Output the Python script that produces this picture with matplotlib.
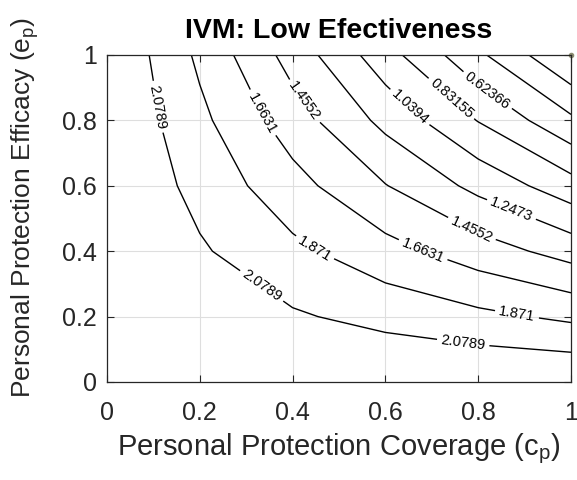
import numpy as np
import matplotlib
matplotlib.use("Agg")
import matplotlib.pyplot as plt

# Grilla de datos (cobertura c_p en columnas, eficacia e_p en filas)
cp = [0.0, 0.2, 0.4, 0.6, 0.8, 1.0]
ep = [0.0, 0.2, 0.4, 0.6, 0.8, 1.0]
R = [
    [2.2868, 2.2868, 2.2868, 2.2868, 2.2868, 2.2868],
    [2.2868, 2.1953, 2.1038, 2.0124, 1.9209, 1.8294],
    [2.2868, 2.1038, 1.9209, 1.7379, 1.5550, 1.3721],
    [2.2868, 2.0124, 1.7379, 1.4635, 1.1891, 0.9147],
    [2.2868, 1.9209, 1.5550, 1.1891, 0.8232, 0.4574],
    [2.2868, 1.8294, 1.3721, 0.9147, 0.4574, 0.0000],
]
levels = [0.20789, 0.41578, 0.62366, 0.83155, 1.0394,
          1.2473, 1.4552, 1.6631, 1.871, 2.0789]
level_text = ["0.20789", "0.41578", "0.62366", "0.83155", "1.0394",
              "1.2473", "1.4552", "1.6631", "1.871", "2.0789"]
# posiciones aproximadas de las etiquetas
label_pos = [(0.103, 0.84), (0.33, 0.287), (0.767, 0.113),
             (0.325, 0.816), (0.423, 0.856), (0.448, 0.41),
             (0.883, 0.202), (0.678, 0.394), (0.787, 0.47),
             (0.873, 0.532), (0.653, 0.841), (0.743, 0.868),
             (0.825, 0.902)]
ticks = [0, 0.2, 0.4, 0.6, 0.8, 1]
tick_labels = ["0", "0.2", "0.4", "0.6", "0.8", "1"]

plt.rcParams["font.family"] = ["Liberation Sans", "DejaVu Sans"]
gray = "#262626"

fig = plt.figure(figsize=(5.77, 4.8), dpi=100)
ax = fig.add_axes([0.1854, 0.2042, 0.8042, 0.6813])

X, Y = np.meshgrid(cp, ep)
cs = ax.contour(X, Y, np.array(R), levels=levels, colors="k", linewidths=1.0)
fmt = dict(zip(cs.levels, level_text))
ax.clabel(cs, fmt=fmt, fontsize=10.5, inline=True, inline_spacing=4,
          manual=label_pos)
ax.plot([1.0], [1.0], "o", color="#8c8c70", markersize=3, clip_on=False)

ax.set_xlim(0, 1)
ax.set_ylim(0, 1)
ax.set_xticks(ticks)
ax.set_xticklabels(tick_labels)
ax.set_yticks(ticks)
ax.set_yticklabels(tick_labels)
ax.tick_params(direction="in", length=5, width=0.8, colors=gray,
               labelsize=18, top=True, right=True)
ax.tick_params(axis="x", pad=13.5)
ax.tick_params(axis="y", pad=7.5)
ax.grid(True, color="#dedede", linewidth=0.8)
ax.set_axisbelow(True)
for s in ax.spines.values():
    s.set_color(gray)
    s.set_linewidth(0.9)

ax.set_title("IVM: Low Efectiveness", fontsize=20.5, fontweight="bold",
             color="k", pad=12)
ax.set_xlabel("Personal Protection Coverage (c$_\\mathregular{p}$)",
              fontsize=21, color=gray, labelpad=5)
ax.set_ylabel("Personal Protection Efficacy (e$_\\mathregular{p}$)",
              fontsize=19, color=gray, ha="left")
ax.yaxis.set_label_coords(-0.142, -0.049)

fig.savefig("out.png", dpi=100)
